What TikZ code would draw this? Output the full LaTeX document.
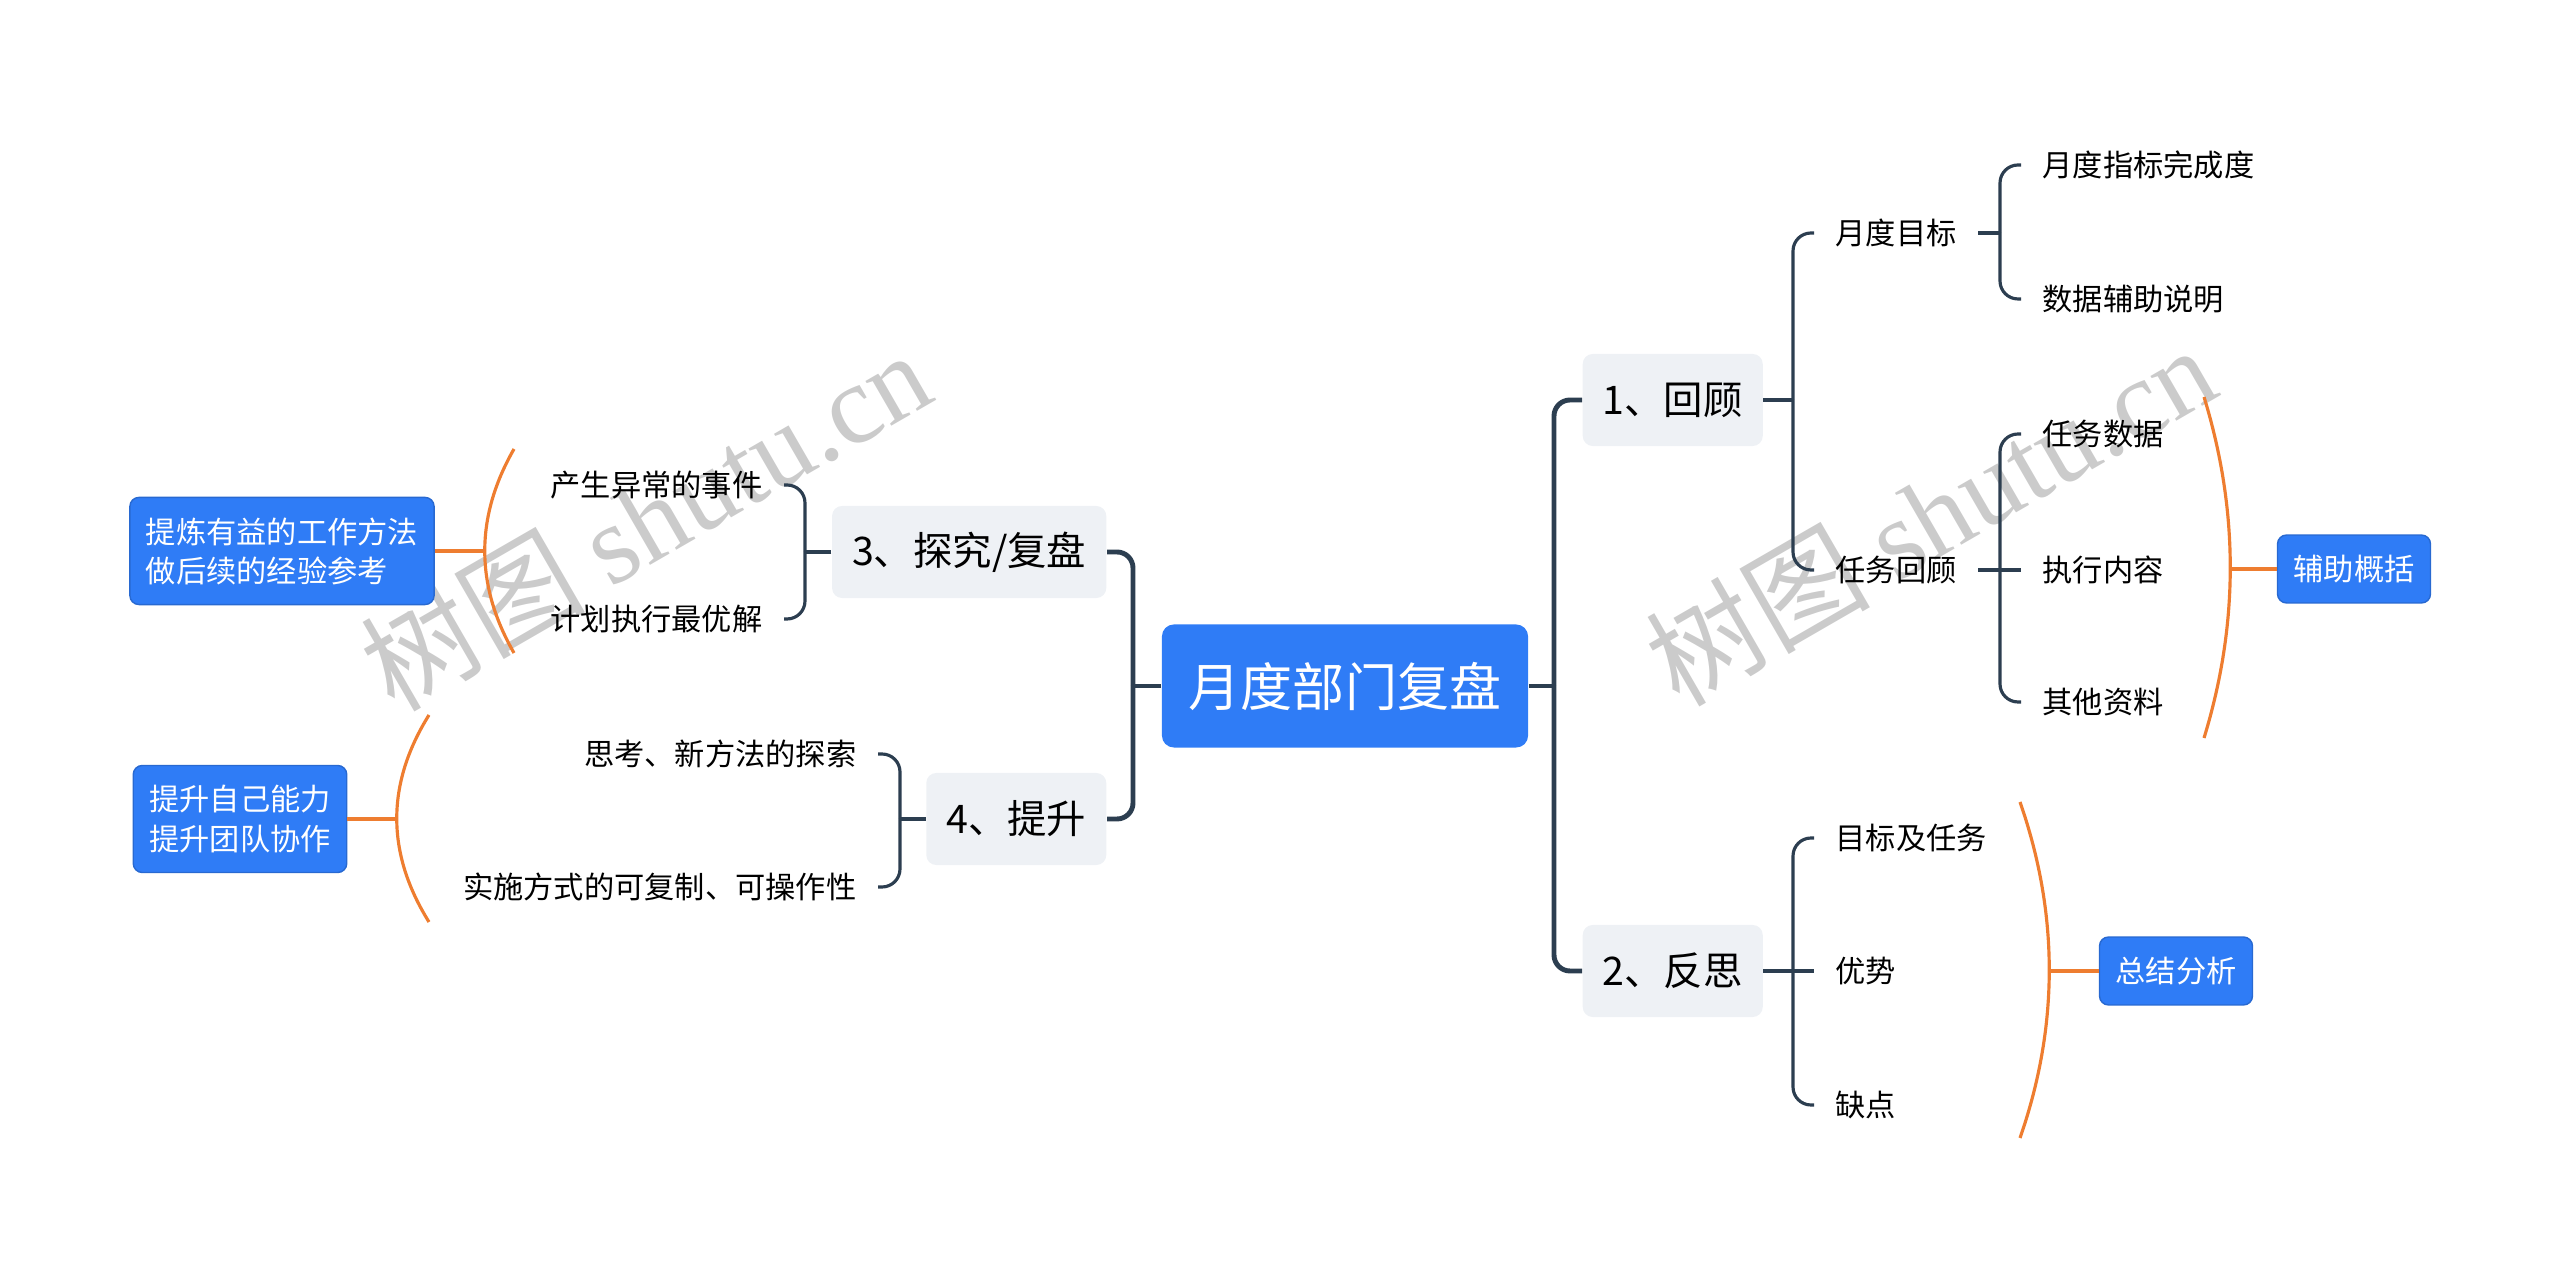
\documentclass[tikz,border=0pt]{standalone}
\usepackage{fontspec}
\setmainfont{Noto Sans CJK SC}
\newfontfamily\wmfont{Liberation Serif}
\usepackage{tikz}
\usetikzlibrary{positioning, calc}

\definecolor{rootblue}{HTML}{2F7CF6}
\definecolor{boxgray}{HTML}{EEF1F5}
\definecolor{slate}{HTML}{2C3E50}
\definecolor{sumorange}{HTML}{EE7D30}
\definecolor{wmgray}{HTML}{CBCBCB}

\begin{document}
\begin{tikzpicture}[x=0.01cm, y=-0.01cm,
  rootbox/.style={fill=rootblue, text=white, rounded corners=0.12cm, minimum width=3.66cm, minimum height=1.23cm, font=\fontsize{14.8}{18}\selectfont},
  topicbox/.style={fill=boxgray, rounded corners=0.1cm, inner xsep=0.2cm, minimum height=0.92cm, font=\fontsize{11.2}{14}\selectfont},
  leaf/.style={inner xsep=0.21cm, inner ysep=2pt, font=\fontsize{8.6}{11}\selectfont},
  sumbox/.style={fill=rootblue, draw=rootblue!85!black, line width=0.4pt, text=white, rounded corners=0.09cm, inner xsep=0.16cm, inner ysep=0.2cm, font=\fontsize{8.6}{11.1}\selectfont},
  spine/.style={draw=slate, line width=1.4pt, rounded corners=0.16cm},
  branch/.style={draw=slate, line width=0.9pt, rounded corners=0.18cm},
  brace/.style={draw=sumorange, line width=0.9pt},
  watermark/.style={text=wmgray, rotate=30, font=\fontsize{32}{36}\selectfont}]
  \useasboundingbox (0,0) rectangle (2560,1271);

  % Watermarks
  \node[watermark] (w1) at (645,519) {树图 {\wmfont shutu.cn}};
  \node[watermark] (w2) at (1930,514) {树图 {\wmfont shutu.cn}};

  % Central topic
  \node[rootbox] (root) at (1345,686) {月度部门复盘};

  % Main topics
  \node[topicbox, anchor=west] (t1) at (1582,400) {1、回顾};
  \node[topicbox, anchor=west] (t2) at (1582,971) {2、反思};
  \node[topicbox, anchor=east] (t3) at (1107,552) {3、探究/复盘};
  \node[topicbox, anchor=east] (t4) at (1107,819) {4、提升};

  % Spine
  \coordinate (jr) at (1554,686);
  \coordinate (jl) at (1133,686);
  \draw[spine] (root.east) -- (jr);
  \draw[spine] (root.west) -- (jl);
  \foreach \t in {t1,t2} \draw[spine] (jr) |- (\t.west);
  \foreach \t in {t3,t4} \draw[spine] (jl) |- (\t.east);

  % 1、回顾
  \node[leaf, anchor=west] (a1) at (1814,233) {月度目标};
  \node[leaf, anchor=west] (a2) at (1814,570) {任务回顾};
  \coordinate (j1) at (1793,400);
  \draw[branch] (t1.east) -- (j1);
  \foreach \n in {a1,a2} \draw[branch] (j1) |- (\n.west);

  \coordinate (ja1) at (2000,233);
  \draw[branch] (a1.east) -- (ja1);
  \foreach \n/\y/\t in {b1/165/月度指标完成度, b2/299/数据辅助说明} {
    \node[leaf, anchor=west] (\n) at (2021,\y) {\t};
    \draw[branch] (ja1) |- (\n.west);
  }

  \coordinate (ja2) at (2000,570);
  \node[leaf, anchor=west] (c2) at (2021,570) {执行内容};
  \draw[branch] (a2.east) -- (c2.west);
  \foreach \n/\y/\t in {c1/434/任务数据, c3/702/其他资料} {
    \node[leaf, anchor=west] (\n) at (2021,\y) {\t};
    \draw[branch] (ja2) |- (\n.west);
  }

  % 2、反思
  \coordinate (j2) at (1793,971);
  \node[leaf, anchor=west] (d2) at (1814,971) {优势};
  \draw[branch] (t2.east) -- (d2.west);
  \foreach \n/\y/\t in {d1/838/目标及任务, d3/1105/缺点} {
    \node[leaf, anchor=west] (\n) at (1814,\y) {\t};
    \draw[branch] (j2) |- (\n.west);
  }

  % 3、探究/复盘
  \coordinate (j3) at (805,552);
  \draw[branch] (t3.west) -- (j3);
  \foreach \n/\y/\t in {e1/485/产生异常的事件, e2/619/计划执行最优解} {
    \node[leaf, anchor=east] (\n) at (784,\y) {\t};
    \draw[branch] (j3) |- (\n.east);
  }

  % 4、提升
  \coordinate (j4) at (900,819);
  \draw[branch] (t4.west) -- (j4);
  \foreach \n/\y/\t in {f1/754/思考、新方法的探索, f2/887/实施方式的可复制、可操作性} {
    \node[leaf, anchor=east] (\n) at (878,\y) {\t};
    \draw[branch] (j4) |- (\n.east);
  }

  % Summaries
  \node[sumbox] (s1) at (2354,569) {辅助概括};
  \draw[brace] (2204,397) .. controls (2239,511) and (2239,624) .. (2204,738);
  \coordinate (m1) at (2230,569);
  \draw[brace] (m1) -- (s1.west);

  \node[sumbox] (s2) at (2176,971) {总结分析};
  \draw[brace] (2020,802) .. controls (2059,914) and (2059,1026) .. (2020,1138);
  \coordinate (m2) at (2049,971);
  \draw[brace] (m2) -- (s2.west);

  \node[sumbox, align=left] (s3) at (282,551) {提炼有益的工作方法\\做后续的经验参考};
  \draw[brace] (514,449) .. controls (475,517) and (475,585) .. (514,653);
  \coordinate (m3) at (485,551);
  \draw[brace] (m3) -- (s3.east);

  \node[sumbox, align=center] (s4) at (240,819) {提升自己能力\\提升团队协作};
  \draw[brace] (429,715) .. controls (386,784) and (386,853) .. (429,922);
  \coordinate (m4) at (397,819);
  \draw[brace] (m4) -- (s4.east);
\end{tikzpicture}
\end{document}
